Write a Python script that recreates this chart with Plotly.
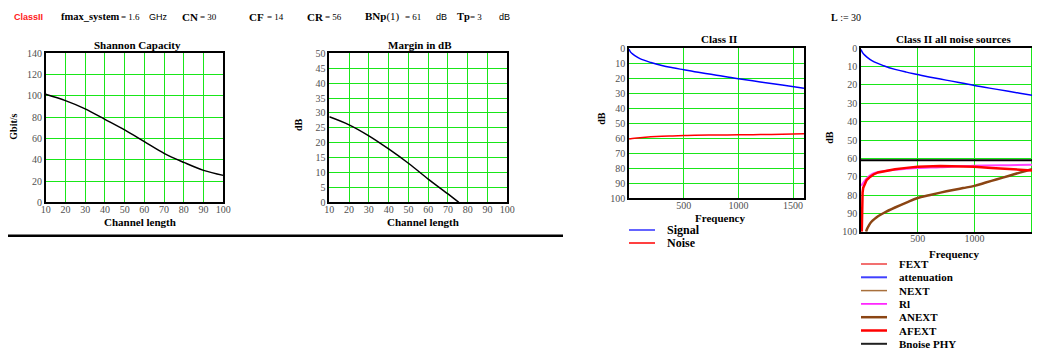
import plotly.graph_objects as go

# ---------------- data ----------------
channel_length = [10, 20, 30, 40, 50, 60, 70, 80, 90, 100]
shannon_gbit = [101.5, 95.5, 87.8, 78.0, 68.0, 57.0, 46.0, 37.5, 30.0, 25.3]

margin_length = [10, 20, 30, 40, 50, 60, 70, 75.5]
margin_db = [28.7, 26.0, 22.3, 17.9, 13.1, 7.8, 2.8, 0.0]

freq_sig = [1, 10, 25, 50, 100, 200, 300, 400, 500, 600, 700, 800, 900, 1000, 1200, 1400, 1600]
attenuation_db = [0.6, 2.0, 3.3, 4.7, 6.9, 9.5, 11.5, 13.0, 14.3, 15.6, 16.8, 17.9, 19.1, 20.3, 22.4, 24.5, 26.6]

freq_noise = [1, 50, 100, 200, 300, 400, 500, 600, 800, 1000, 1200, 1400, 1600]
noise_db = [60.5, 60.0, 59.6, 59.0, 58.6, 58.4, 58.2, 58.0, 57.8, 57.7, 57.5, 57.3, 57.0]

freq_rl = [2, 10, 20, 50, 100, 150, 200, 300, 400, 500, 700, 1000, 1300, 1600]
rl_db = [75.0, 74.2, 73.3, 71.0, 68.5, 67.5, 67.0, 66.2, 65.7, 65.3, 64.8, 64.0, 63.7, 63.5]

freq_afext = [7, 8, 10, 14, 20, 35, 50, 80, 110, 150, 200, 300, 400, 500, 700, 900, 1000, 1150, 1300, 1450, 1600]
afext_db = [100, 88, 82, 78.5, 76, 73.3, 71.8, 70.1, 68.8, 67.7, 67.0, 66.0, 65.2, 64.6, 64.2, 64.3, 64.6, 65.2, 65.9, 66.5, 67.0]

freq_anext = [45, 55, 70, 90, 120, 150, 200, 300, 400, 500, 600, 700, 800, 900, 1000, 1100, 1200, 1300, 1400, 1500, 1600]
anext_db = [100, 98.3, 96.5, 94.7, 93.0, 91.6, 89.8, 86.8, 84.1, 81.6, 80.1, 78.7, 77.4, 76.2, 75.0, 73.2, 71.4, 69.6, 67.8, 66.0, 64.2]

freq_bnoise = [0, 1600]
bnoise_db = [61, 61]

x_ticks_len = [10, 20, 30, 40, 50, 60, 70, 80, 90, 100]
x_ticks_freq = [500, 1000, 1500]

legend3_names = ["Signal", "Noise"]
legend4_names = ["FEXT", "attenuation", "NEXT", "Rl", "ANEXT", "AFEXT", "Bnoise PHY"]

# ---------------- layout helpers ----------------
# the page body has an 8px margin, so the figure is placed at (8, 8) in the window
OFF = 8
W, H = 1040 - OFF, 350 - OFF


def px(x):
    return (x - OFF) / W


def py(y):
    return 1 - (y - OFF) / H


GRID = "#19e619"
SERIF = "Liberation Serif"
TICKFONT = dict(family=SERIF, size=10, color="#505050")

fig = go.Figure()

# chart 1: Shannon capacity
fig.add_trace(go.Scatter(x=channel_length, y=shannon_gbit, mode="lines",
                         line=dict(color="black", width=1.5, shape="spline"),
                         xaxis="x", yaxis="y", showlegend=False))
# chart 2: margin
fig.add_trace(go.Scatter(x=margin_length, y=margin_db, mode="lines",
                         line=dict(color="black", width=1.5, shape="spline"),
                         xaxis="x2", yaxis="y2", showlegend=False))
# chart 3: class II
fig.add_trace(go.Scatter(x=freq_sig, y=attenuation_db, mode="lines", name="Signal",
                         line=dict(color="#0000ff", width=1.5, shape="spline"),
                         xaxis="x3", yaxis="y3", showlegend=False))
fig.add_trace(go.Scatter(x=freq_noise, y=noise_db, mode="lines", name="Noise",
                         line=dict(color="#ff0000", width=1.5, shape="spline"),
                         xaxis="x3", yaxis="y3", showlegend=False))
# chart 4: all noise sources
fig.add_trace(go.Scatter(x=freq_bnoise, y=bnoise_db, mode="lines", name="Bnoise PHY",
                         line=dict(color="black", width=2),
                         xaxis="x4", yaxis="y4", showlegend=False))
fig.add_trace(go.Scatter(x=freq_sig, y=attenuation_db, mode="lines", name="attenuation",
                         line=dict(color="#0000ff", width=1.5, shape="spline"),
                         xaxis="x4", yaxis="y4", showlegend=False))
fig.add_trace(go.Scatter(x=freq_anext, y=anext_db, mode="lines", name="ANEXT",
                         line=dict(color="#8b4513", width=2.5, shape="spline"),
                         xaxis="x4", yaxis="y4", showlegend=False))
fig.add_trace(go.Scatter(x=freq_rl, y=rl_db, mode="lines", name="Rl",
                         line=dict(color="#ff44ff", width=2, shape="spline"),
                         xaxis="x4", yaxis="y4", showlegend=False))
fig.add_trace(go.Scatter(x=freq_afext, y=afext_db, mode="lines", name="AFEXT",
                         line=dict(color="#ff0000", width=2.5),
                         xaxis="x4", yaxis="y4", showlegend=False))


def axis(domain, rng, **kw):
    d = dict(domain=domain, range=rng, showgrid=True, gridcolor=GRID, gridwidth=1,
             showline=True, linecolor="black", linewidth=1.5, mirror=True,
             zeroline=False, ticks="", tickfont=TICKFONT, fixedrange=True,
             automargin=False)
    d.update(kw)
    return d


XSO = -3  # pull x tick labels a little closer to the axis
layout_axes = dict(
    xaxis=axis([px(45.7), px(223.3)], [10, 100], tickvals=x_ticks_len, anchor="y", ticklabelstandoff=XSO),
    yaxis=axis([py(202.3), py(53.3)], [0, 140], dtick=20, tick0=0, anchor="x"),
    xaxis2=axis([px(329.3), px(507.3)], [10, 100], tickvals=x_ticks_len, anchor="y2", ticklabelstandoff=XSO),
    yaxis2=axis([py(202.3), py(53.3)], [0, 50], dtick=5, tick0=0, anchor="x2"),
    xaxis3=axis([px(629), px(804)], [0, 1600], tickvals=x_ticks_freq, anchor="y3", ticklabelstandoff=XSO),
    yaxis3=axis([py(198.3), py(48.3)], [100, 0], dtick=10, tick0=0, anchor="x3"),
    xaxis4=axis([px(861), 1.0], [0, 1578], tickvals=x_ticks_freq, anchor="y4", ticklabelstandoff=XSO),
    yaxis4=axis([py(231.7), py(48.3)], [100, 0], dtick=10, tick0=0, anchor="x4", mirror=False),
)

annotations = []


def text(x, y, s, size=11, family=SERIF, color="black", xanchor="left", angle=0):
    annotations.append(dict(x=px(x), y=py(y), xref="paper", yref="paper", text=s,
                            showarrow=False, xanchor=xanchor, yanchor="middle",
                            textangle=angle,
                            font=dict(family=family, size=size, color=color)))


# top row of parameters
y0 = 16.7
text(12, y0, "<b>ClassII</b>", size=9, family="Liberation Sans", color="#ff2020")
text(59, y0, "<b>fmax_system</b>", size=10.5)
text(119, y0, "= 1.6", size=9)
text(147, y0, "GHz", size=9, family="Liberation Sans")
text(180, y0, "<b>CN</b>", size=11)
text(198, y0, "= 30", size=9)
text(247, y0, "<b>CF</b>", size=11)
text(265, y0, "= 14", size=9)
text(305, y0, "<b>CR</b>", size=11)
text(323, y0, "= 56", size=9)
text(363, y0, "<b>BNp</b>(1)", size=11)
text(403, y0, "= 61", size=9)
text(434, y0, "dB", size=9, family="Liberation Sans")
text(455, y0, "<b>Tp</b>", size=10.5)
text(468, y0, "= 3", size=9)
text(497, y0, "dB", size=9, family="Liberation Sans")
text(829, 17.3, "<b>L</b> := 30", size=10)

# chart titles
text(137, 45, "<b>Shannon Capacity</b>", size=11, xanchor="center")
text(420, 45, "<b>Margin in dB</b>", size=11, xanchor="center")
text(718.5, 39, "<b>Class II</b>", size=11, xanchor="center")
text(953.5, 39, "<b>Class II all noise sources</b>", size=11, xanchor="center")

# axis titles
text(140, 222.5, "<b>Channel length</b>", size=11, xanchor="center")
text(423, 222.5, "<b>Channel length</b>", size=11, xanchor="center")
text(720, 218, "<b>Frequency</b>", size=11, xanchor="center")
text(954, 253.5, "<b>Frequency</b>", size=11, xanchor="center")
text(14, 126.7, "<b>Gbit/s</b>", size=10, xanchor="center", angle=-90)
text(299, 125, "<b>dB</b>", size=10, xanchor="center", angle=-90)
text(600.7, 118, "<b>dB</b>", size=10, xanchor="center", angle=-90)
text(830, 137.7, "<b>dB</b>", size=10, xanchor="center", angle=-90)

shapes = []
# separator line under the left charts
shapes.append(dict(type="line", xref="paper", yref="paper", x0=px(8), x1=px(563),
                   y0=py(235.7), y1=py(235.7), line=dict(color="black", width=2.5)))

# legend for chart 3
leg3_styles = [("#3030ff", 1.5), ("#ff0000", 1.5)]
for i, (name, (col, wd)) in enumerate(zip(legend3_names, leg3_styles)):
    yy = 230 + 13 * i
    shapes.append(dict(type="line", xref="paper", yref="paper", x0=px(629), x1=px(655),
                       y0=py(yy), y1=py(yy), line=dict(color=col, width=wd)))
    text(665, yy, "<b>" + name + "</b>", size=12)

# legend for chart 4
leg4_styles = [("#ee4040", 1.5), ("#4040ff", 2), ("#a8703c", 1.5), ("#ff00ff", 1.5),
               ("#8b4513", 2.5), ("#ff0000", 2.5), ("#202020", 2)]
for i, (name, (col, wd)) in enumerate(zip(legend4_names, leg4_styles)):
    yy = 264 + 13.3 * i
    shapes.append(dict(type="line", xref="paper", yref="paper", x0=px(861), x1=px(887),
                       y0=py(yy), y1=py(yy), line=dict(color=col, width=wd)))
    text(897, yy, "<b>" + name + "</b>", size=11)

fig.update_layout(
    template="none",
    width=W, height=H,
    margin=dict(l=0, r=0, t=0, b=0, pad=0, autoexpand=False),
    paper_bgcolor="white", plot_bgcolor="white",
    showlegend=False,
    annotations=annotations,
    shapes=shapes,
    **layout_axes,
)

fig.write_html("out.html")
